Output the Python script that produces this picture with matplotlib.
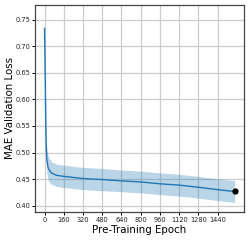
import matplotlib
matplotlib.use("Agg")
import matplotlib.pyplot as plt
import numpy as np

epochs = [0, 3, 6, 9, 12, 15, 20, 30, 45, 60, 100, 160, 240, 320, 480, 640, 800, 960, 1120, 1280, 1440, 1580]
mean_loss = [0.734, 0.69, 0.64, 0.585, 0.535, 0.505, 0.485, 0.471, 0.465, 0.461, 0.457, 0.455, 0.453, 0.451, 0.449, 0.4465, 0.4445, 0.441, 0.4385, 0.4345, 0.430, 0.4265]
std_loss = [0.002, 0.004, 0.008, 0.012, 0.018, 0.022, 0.024, 0.023, 0.022, 0.021, 0.021, 0.021, 0.021, 0.021, 0.021, 0.0205, 0.0205, 0.0205, 0.0205, 0.0205, 0.0205, 0.0205]
xticks = [0, 160, 320, 480, 640, 800, 960, 1120, 1280, 1440]
yticks = [0.40, 0.45, 0.50, 0.55, 0.60, 0.65, 0.70, 0.75]

x = np.array(epochs)
m = np.array(mean_loss)
s = np.array(std_loss)

fig = plt.figure(figsize=(2.49, 2.40), dpi=100)
ax = fig.add_axes([0.1406, 0.117, 0.8394, 0.862])
ax.grid(True, color="#cccccc", linewidth=0.9, zorder=0)
ax.set_axisbelow(True)
ax.fill_between(x, m - s, m + s, color="C0", alpha=0.3, linewidth=0, zorder=2)
ax.plot(x, m, color="C0", linewidth=1.0, zorder=3)
ax.plot([x[-1]], [m[-1]], "o", color="black", markersize=3.5, zorder=4)
ax.set_xticks(xticks)
ax.set_yticks(yticks)
ax.set_xlim(-79, 1659)
ax.set_ylim(0.388, 0.778)
ax.tick_params(labelsize=4.8, length=2.0, width=0.7, pad=1.5, labelcolor="#222222")
ax.set_xlabel("Pre-Training Epoch", fontsize=7.4)
ax.set_ylabel("MAE Validation Loss", fontsize=7.4)
ax.xaxis.set_label_coords(0.5, -0.065)
ax.yaxis.set_label_coords(-0.095, 0.5)
for sp in ax.spines.values():
    sp.set_color("#444444")
    sp.set_linewidth(0.9)
fig.savefig("out.png", dpi=100)
